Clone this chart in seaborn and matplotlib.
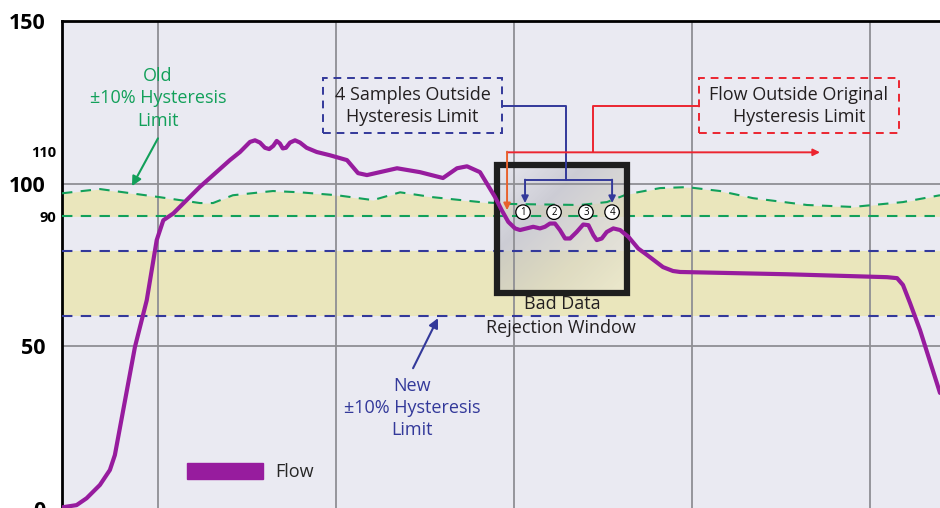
import numpy as np
import matplotlib
matplotlib.use("Agg")
import matplotlib.pyplot as plt
import seaborn as sns
from matplotlib.patches import Rectangle, Patch
from matplotlib.colors import LinearSegmentedColormap
from matplotlib.transforms import ScaledTranslation

# ---- data (time in s, flow) ----
flow_t = [4.61, 5.43, 5.99, 6.74, 7.30, 7.58, 8.71, 9.37, 9.93, 10.30, 10.86,
          12.36, 14.04, 14.61, 15.17, 15.45, 15.73, 16.01, 16.25, 16.48, 16.67,
          16.85, 17.01, 17.19, 17.42, 17.70, 17.98, 18.35, 18.92, 19.66,
          20.62, 21.24, 21.74, 23.43, 24.72, 26.01, 26.80, 27.36,
          28.09, 28.93, 29.31, 29.68, 30.06, 30.34, 30.71, 31.08, 31.46, 31.74,
          32.02, 32.30, 32.58, 32.87, 33.15, 33.52, 33.89, 34.18, 34.46, 34.65,
          34.93, 35.21, 35.58, 35.96, 36.43, 36.98, 37.36, 38.37, 38.93, 39.33,
          45.34, 50.96, 51.52, 51.85, 52.25, 52.81, 53.93]
flow_v = [0.5, 1.2, 3.3, 7.4, 12.0, 16.6, 49.9, 64.2, 82.7, 88.8, 90.9,
          99.1, 107.3, 109.8, 112.9, 113.4, 112.7, 111.1, 110.7, 111.7, 113.2,
          112.4, 110.9, 111.1, 112.7, 113.4, 112.7, 111.1, 109.8, 108.8,
          107.3, 103.3, 102.7, 104.8, 103.6, 101.8, 104.8, 105.4,
          103.6, 96.0, 91.9, 88.3, 86.3, 85.8, 86.3, 86.8, 86.3, 86.8,
          87.8, 87.8, 85.8, 83.2, 83.2, 85.2, 87.5, 87.3, 84.2, 82.7,
          83.2, 85.2, 86.3, 85.8, 83.7, 80.1, 78.6, 74.4, 73.2, 72.9,
          72.2, 71.3, 71.0, 68.9, 63.3, 55.0, 35.7]

old_upper_t = [4.61, 6.74, 10.11, 12.36, 13.09, 14.21, 16.46, 17.98, 20.06, 22.08,
               23.60, 25.45, 28.09, 29.94, 33.71, 35.22, 36.35, 38.20, 39.72, 41.57,
               43.43, 46.46, 49.04, 51.85, 53.93]
old_upper_v = [97.1, 98.4, 95.9, 94.1, 94.1, 96.5, 97.8, 97.4, 96.5, 95.0,
               97.4, 95.9, 94.4, 93.8, 93.5, 94.4, 96.8, 98.7, 99.0, 97.8,
               95.6, 93.5, 92.9, 94.4, 96.5]
old_lower = 90
new_upper = 79.5
new_lower = 59.5

y_major = [0, 50, 100, 150]
y_minor = [90, 110]
x_grid = [10, 20, 30, 40, 50]
sample_t = [30.51, 32.25, 34.04, 35.51]
sample_labels = ['1', '2', '3', '4']

# ---- colours ----
purple = '#971C9E'
green = '#12A05A'
blue = '#33399A'
red = '#EC2530'
yellow = '#EAE6BC'
ink = '#231F20'

sns.set_style("darkgrid", {"axes.facecolor": "#EAEAF2"})
plt.rcParams['font.family'] = ['Open Sans', 'DejaVu Sans']

fig = plt.figure(figsize=(9.4, 5.08), dpi=100)
ax = fig.add_axes([62 / 940, -1 / 508, 878 / 940, 487.7 / 508])
ax.grid(False)
ax.set_xlim(4.61, 53.93)
ax.set_ylim(0, 150)

# hysteresis bands
ax.fill_between(old_upper_t, old_lower, old_upper_v, color=yellow, lw=0, zorder=1)
ax.axhspan(new_lower, new_upper, color=yellow, lw=0, zorder=1)

# bad data rejection window (gradient box)
bx0, bx1, by0, by1 = 29.04, 36.35, 66.4, 105.7
gx, gy = np.meshgrid(np.linspace(0, 1, 200), np.linspace(0, 1, 200))
grad = (gx + gy) / 2
cmap = LinearSegmentedColormap.from_list('win', ['#e6e6ee', '#bdbdc5', '#d8d5c4', '#eeebd6'])
ax.imshow(grad, extent=(bx0, bx1, by0, by1), origin='upper', cmap=cmap,
          aspect='auto', alpha=0.65, zorder=2)
ax.add_patch(Rectangle((bx0, by0), bx1 - bx0, by1 - by0, fill=False,
                       ec='#1e1e1e', lw=4.5, zorder=6))

# grid
for xg in x_grid:
    ax.axvline(xg, color='#8f8f94', lw=1.3, zorder=2.5)
for yg in [50, 100]:
    ax.axhline(yg, color='#8f8f94', lw=1.3, zorder=2.5)

# limit lines
ax.axhline(old_lower, color=green, lw=1.5, ls=(0, (5, 4)), zorder=3)
sns.lineplot(x=old_upper_t, y=old_upper_v, color=green, lw=1.5, ax=ax,
             estimator=None, sort=False, zorder=3)
ax.lines[-1].set_linestyle((0, (5, 4)))
for yl in [new_upper, new_lower]:
    ax.axhline(yl, color=blue, lw=1.5, ls=(0, (5, 4)), zorder=3)

# flow trace
sns.lineplot(x=flow_t, y=flow_v, color=purple, lw=3, ax=ax,
             estimator=None, sort=False, zorder=7,
             solid_joinstyle='round', solid_capstyle='round')

# sample markers
for t, lab in zip(sample_t, sample_labels):
    ax.text(t, 91.3, lab, ha='center', va='center', fontsize=7, color='black',
            zorder=9, bbox=dict(boxstyle='circle,pad=0.18', fc='white', ec='black', lw=0.9))

# "4 samples" callout
ax.add_patch(Rectangle((19.27, 115.6), 29.33 - 19.27, 132.5 - 115.6, fill=False,
                       ec=blue, lw=1.4, ls=(0, (4, 3)), zorder=8))
ax.text(24.3, 124.0, '4 Samples Outside\nHysteresis Limit', ha='center', va='center',
        fontsize=13, color=ink, linespacing=1.25, zorder=8)
ax.plot([29.33, 32.92, 32.92], [124.0, 124.0, 101.1], color=blue, lw=1.4, zorder=8)
ax.plot([30.62, 35.51], [101.1, 101.1], color=blue, lw=1.4, zorder=8)
for t in [30.62, 35.51]:
    ax.annotate('', xy=(t, 94.1), xytext=(t, 101.3), zorder=8,
                arrowprops=dict(arrowstyle='-|>', color=blue, lw=1.4,
                                mutation_scale=10, shrinkA=0, shrinkB=0))

# "flow outside" callout
ax.add_patch(Rectangle((40.39, 115.6), 51.63 - 40.39, 132.5 - 115.6, fill=False,
                       ec=red, lw=1.4, ls=(0, (4, 3)), zorder=8))
ax.text(46.0, 124.0, 'Flow Outside Original\nHysteresis Limit', ha='center', va='center',
        fontsize=13, color=ink, linespacing=1.25, zorder=8)
ax.plot([40.39, 34.44, 34.44], [124.0, 124.0, 109.7], color=red, lw=1.4, zorder=8)
ax.annotate('', xy=(47.19, 109.7), xytext=(29.61, 109.7), zorder=8,
            arrowprops=dict(arrowstyle='-|>', color=red, lw=1.4,
                            mutation_scale=10, shrinkA=0, shrinkB=0))
ax.annotate('', xy=(29.61, 91.9), xytext=(29.61, 109.9), zorder=8,
            arrowprops=dict(arrowstyle='-|>', color='#E8612C', lw=1.4,
                            mutation_scale=10, shrinkA=0, shrinkB=0))

# old / new limit labels
ax.text(10.0, 126.3, 'Old\n±10% Hysteresis\nLimit', ha='center', va='center',
        fontsize=13, color=green, linespacing=1.3, zorder=8)
ax.annotate('', xy=(8.54, 99.3), xytext=(10.0, 114.0), zorder=8,
            arrowprops=dict(arrowstyle='-|>', color=green, lw=1.5,
                            mutation_scale=14, shrinkA=0, shrinkB=0))
ax.text(24.27, 31.0, 'New\n±10% Hysteresis\nLimit', ha='center', va='center',
        fontsize=13, color=blue, linespacing=1.3, zorder=8)
ax.annotate('', xy=(25.73, 58.7), xytext=(24.33, 43.3), zorder=8,
            arrowprops=dict(arrowstyle='-|>', color=blue, lw=1.5,
                            mutation_scale=14, shrinkA=0, shrinkB=0))

ax.text(32.70, 63.0, 'Bad Data', ha='center', va='center', fontsize=13, color=ink, zorder=8)
ax.text(32.64, 55.6, 'Rejection Window', ha='center', va='center', fontsize=13,
        color=ink, zorder=8)

# legend
ax.legend(handles=[Patch(color=purple)], labels=['Flow'], loc='center left',
          bbox_to_anchor=((187 - 62) / 878, (509 - 472) / 487.7), frameon=False,
          fontsize=13, handlelength=4.2, handleheight=1.0, handletextpad=0.7,
          borderpad=0, borderaxespad=0)

# axes / ticks
ax.set_xticks(x_grid)
ax.set_xticklabels([])
ax.set_yticks(y_major + y_minor)
ax.set_yticklabels([str(v) for v in y_major + y_minor])
ax.tick_params(axis='both', length=0)
ax.tick_params(axis='y', pad=12)
for lab, v in zip(ax.get_yticklabels(), y_major + y_minor):
    lab.set_fontweight('bold')
    lab.set_color('black')
    if v in y_minor:
        lab.set_fontsize(10.5)
        lab.set_transform(lab.get_transform() + ScaledTranslation(8 / 72, 0, fig.dpi_scale_trans))
    else:
        lab.set_fontsize(15.5)
ax.set_xlabel('')
ax.set_ylabel('')

for side in ['right', 'bottom']:
    ax.spines[side].set_visible(False)
for side in ['left', 'top']:
    ax.spines[side].set_color('black')
    ax.spines[side].set_linewidth(2)
    ax.spines[side].set_visible(True)

fig.patch.set_facecolor('white')
fig.savefig('out.png', dpi=100)
